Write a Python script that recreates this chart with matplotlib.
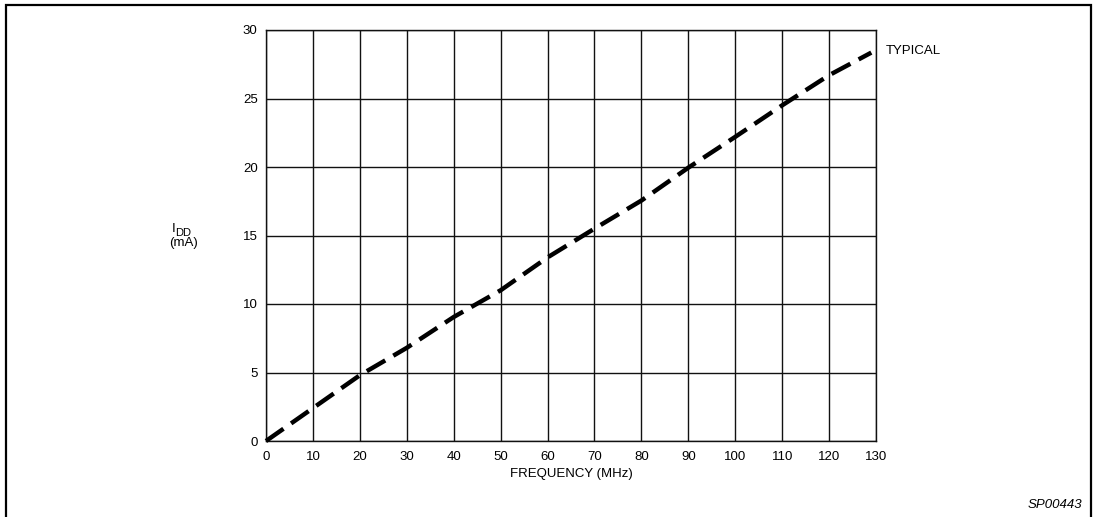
import matplotlib.pyplot as plt
import matplotlib.patches as patches
import numpy as np

plt.rcParams['font.family'] = ['Liberation Sans', 'DejaVu Sans']

# I_DD vs frequency
freq_mhz = [0, 10, 20, 30, 40, 50, 60, 70, 80, 90, 100, 110, 120, 129]
idd_ma = [0, 2.4, 4.8, 6.8, 9.05, 11.0, 13.4, 15.5, 17.55, 19.95, 22.2, 24.5, 26.7, 28.35]

x_ticks = list(range(0, 131, 10))
y_ticks = list(range(0, 31, 5))

W, H = 1096, 517
fig = plt.figure(figsize=(W / 100, H / 100), dpi=100)

# outer frame of the datasheet figure (bottom runs off the page)
frame = patches.Rectangle((6 / W, -0.05), (1091 - 6) / W, 1 - 5 / H + 0.05,
                          transform=fig.transFigure, fill=False,
                          edgecolor='black', linewidth=1.6)
fig.patches.append(frame)

ax = fig.add_axes([266 / W, 1 - 441 / H, (876 - 266) / W, (441 - 30) / H])
ax.set_xlim(0, 130)
ax.set_ylim(0, 30)
ax.set_xticks(x_ticks)
ax.set_yticks(y_ticks)
ax.grid(True, color='#111111', linewidth=1.0)
ax.tick_params(axis='y', length=0, labelsize=9.5, pad=6, colors='black')
ax.tick_params(axis='x', length=0, labelsize=9.5, pad=7, colors='black')
for s in ax.spines.values():
    s.set_linewidth(1.0)
    s.set_color('#111111')

ax.plot(freq_mhz, idd_ma, color='black', linewidth=3.2,
        linestyle=(0, (4.8, 2.1)), dash_capstyle='butt', clip_on=False,
        zorder=5)

fig.text(886 / W, 1 - 51 / H, 'TYPICAL', fontsize=9.5, va='center', ha='left')
fig.text(571 / W, 1 - 474 / H, 'FREQUENCY (MHz)', fontsize=9.5,
         va='center', ha='center')
fig.text(172 / W, 1 - 229 / H, 'I', fontsize=9.5, va='center', ha='left')
fig.text(175 / W, 1 - 233 / H, 'DD', fontsize=8, va='center', ha='left')
fig.text(184 / W, 1 - 243 / H, '(mA)', fontsize=9.5, va='center', ha='center')
fig.text(1082 / W, 1 - 505 / H, 'SP00443', fontsize=9.5, style='italic',
         va='center', ha='right')

fig.savefig('out.png', dpi=100)
